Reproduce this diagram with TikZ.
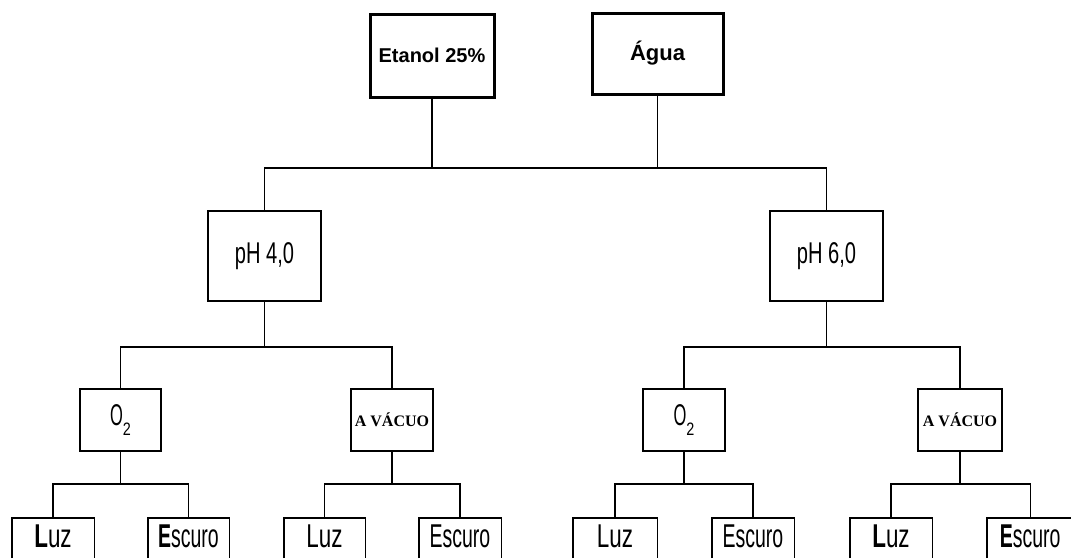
\documentclass[tikz,border=0pt]{standalone}
\usepackage{fontspec}
\setmainfont{Liberation Sans}
\newfontfamily\timesf{Liberation Serif}
\newcommand{\nar}[2]{\scalebox{#1}[1]{#2}}
\newcommand{\oxy}{\nar{0.55}{O}\raisebox{-10pt}{\fontsize{18}{20}\selectfont\nar{0.8}{2}}}
\newcommand{\lf}[2]{\raisebox{4pt}{\nar{#1}{#2}}}
\begin{document}
\begin{tikzpicture}[x=1pt,y=-1pt,
  box/.style={draw=black,line width=1.4pt,inner sep=0pt,fill=white},
  leaf/.style={inner sep=0pt,minimum height=40pt,font=\fontsize{33}{36}\selectfont},
  topbox/.style={draw=black,line width=3pt,inner sep=0pt,fill=white,font=\bfseries},
  midtxt/.style={font=\fontsize{30}{34}\selectfont},
  vactxt/.style={font=\fontsize{16}{18}\selectfont\timesf\bfseries},
  conn/.style={draw=black,line width=1.4pt},
  open/.style={draw=black,line width=1.4pt}]
\useasboundingbox (0,0) rectangle (1071,558);
\fill[white] (0,0) rectangle (1071,558);
% top
\node[topbox,minimum width=124pt,minimum height=83pt] (etanol) at (432,55.5) {\fontsize{20}{22}\selectfont Etanol 25\%};
\node[topbox,minimum width=131pt,minimum height=81pt] (agua) at (657.5,53.5) {\fontsize{22}{24}\selectfont Água};
% level 2
\node[box,midtxt,minimum width=113pt,minimum height=90pt] (ph4) at (264.5,256) {\nar{0.67}{pH 4,0}};
\node[box,midtxt,minimum width=113pt,minimum height=90pt] (ph6) at (826.5,256) {\nar{0.67}{pH 6,0}};
% level 3
\node[box,midtxt,minimum width=81pt,minimum height=62pt] (o2a) at (120.5,420) {\oxy};
\node[box,vactxt,minimum width=82pt,minimum height=62pt] (vaca) at (392,420) {A VÁCUO};
\node[box,midtxt,minimum width=82pt,minimum height=62pt] (o2b) at (684,420) {\oxy};
\node[box,vactxt,minimum width=84pt,minimum height=62pt] (vacb) at (960,420) {A VÁCUO};
% leaves (cut by the lower edge)
\node[leaf,minimum width=82pt] (l1) at (53,538) {\lf{0.68}{\textbf{L}uz}};
\node[leaf,minimum width=81pt] (e1) at (188.5,538) {\lf{0.59}{\textbf{E}scuro}};
\node[leaf,minimum width=81pt] (l2) at (324.5,538) {\lf{0.68}{Luz}};
\node[leaf,minimum width=82pt] (e2) at (460,538) {\lf{0.59}{Escuro}};
\node[leaf,minimum width=84pt] (l3) at (615,538) {\lf{0.68}{Luz}};
\node[leaf,minimum width=82pt] (e3) at (753,538) {\lf{0.59}{Escuro}};
\node[leaf,minimum width=82pt] (l4) at (891,538) {\lf{0.68}{\textbf{L}uz}};
\node[leaf,minimum width=86pt,anchor=west] (e4) at (987,538) {\lf{0.59}{\textbf{E}scuro}};
\foreach \n in {l1,e1,l2,e2,l3,e3,l4}
  \draw[open] (\n.south west) -- (\n.north west) -- (\n.north east) -- (\n.south east);
\draw[open] (e4.south west) -- (e4.north west) -- (e4.north east);
% connectors
\coordinate (bar1) at (545,168);
\draw[conn] (ph4.north) |- (bar1) -| (ph6.north);
\draw[conn] (etanol.south) -- (etanol.south |- bar1);
\draw[conn] (agua.south) -- (agua.south |- bar1);
\coordinate (bar2a) at (264.5,347);
\coordinate (bar2b) at (826.5,347);
\draw[conn] (ph4.south) -- (bar2a);
\draw[conn] (o2a.north) |- (bar2a) -| (vaca.north);
\draw[conn] (ph6.south) -- (bar2b);
\draw[conn] (o2b.north) |- (bar2b) -| (vacb.north);
\coordinate (b3a) at (120.5,484);
\coordinate (b3b) at (392,484);
\coordinate (b3c) at (684,484);
\coordinate (b3d) at (960,484);
\draw[conn] (o2a.south) -- (b3a);
\draw[conn] (l1.north) |- (b3a) -| (e1.north);
\draw[conn] (vaca.south) -- (b3b);
\draw[conn] (l2.north) |- (b3b) -| (e2.north);
\draw[conn] (o2b.south) -- (b3c);
\draw[conn] (l3.north) |- (b3c) -| (e3.north);
\draw[conn] (vacb.south) -- (b3d);
\draw[conn] (l4.north) |- (b3d) -| (e4.north);
\end{tikzpicture}
\end{document}
